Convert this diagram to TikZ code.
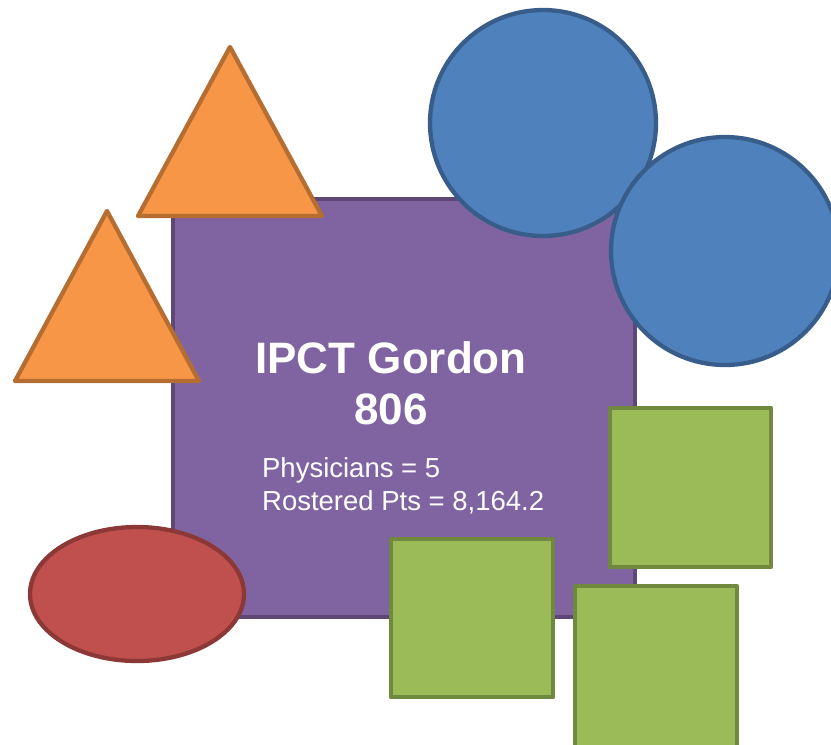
\documentclass[tikz,border=0pt]{standalone}
\usepackage{fontspec}
\setmainfont{Liberation Sans}
\definecolor{purplefill}{HTML}{8064A2}
\definecolor{purpleline}{HTML}{5C4776}
\definecolor{orangefill}{HTML}{F79646}
\definecolor{orangeline}{HTML}{B66D31}
\definecolor{bluefill}{HTML}{4F81BD}
\definecolor{blueline}{HTML}{385D8A}
\definecolor{greenfill}{HTML}{9BBB59}
\definecolor{greenline}{HTML}{71893F}
\definecolor{redfill}{HTML}{C0504D}
\definecolor{redline}{HTML}{8C3836}
\begin{document}
\begin{tikzpicture}[x=1pt, y=-1pt, line width=4.3pt, line join=round,
    purplebox/.style={fill=purplefill, draw=purpleline},
    orangetri/.style={fill=orangefill, draw=orangeline},
    bluedisc/.style={fill=bluefill, draw=blueline},
    greenbox/.style={fill=greenfill, draw=greenline},
    redoval/.style={fill=redfill, draw=redline},
    label/.style={text=white, inner sep=0pt, anchor=base}]
    \useasboundingbox (0,0) rectangle (831,745);
    \clip (0,0) rectangle (831,745);
    \draw [purplebox] (173,199) rectangle (635,617);
    \draw [orangetri] (230,47) -- (322,216) -- (138,216) -- cycle;
    \draw [orangetri] (107,211) -- (199,381) -- (15,381) -- cycle;
    \draw [bluedisc] (543,123) circle (113);
    \draw [bluedisc] (725,251) circle (114);
    \draw [greenbox] (610,408) rectangle (771,567);
    \draw [greenbox] (391,539) rectangle (553,697);
    \draw [greenbox] (575,586) rectangle (737,750);
    \draw [redoval] (137,594) ellipse (107 and 67);
    \node [label, font=\bfseries\fontsize{44}{50}\selectfont] (title) at (391,373) {IPCT Gordon};
    \node [label, font=\bfseries\fontsize{44}{50}\selectfont] (num) at (391,424) {806};
    \node [label, anchor=base west, font=\fontsize{27.5}{32}\selectfont] (phys) at (260,477) {Physicians = 5};
    \node [label, anchor=base west, font=\fontsize{27.5}{32}\selectfont] (pts) at (260,510) {Rostered Pts = 8,164.2};
\end{tikzpicture}
\end{document}
